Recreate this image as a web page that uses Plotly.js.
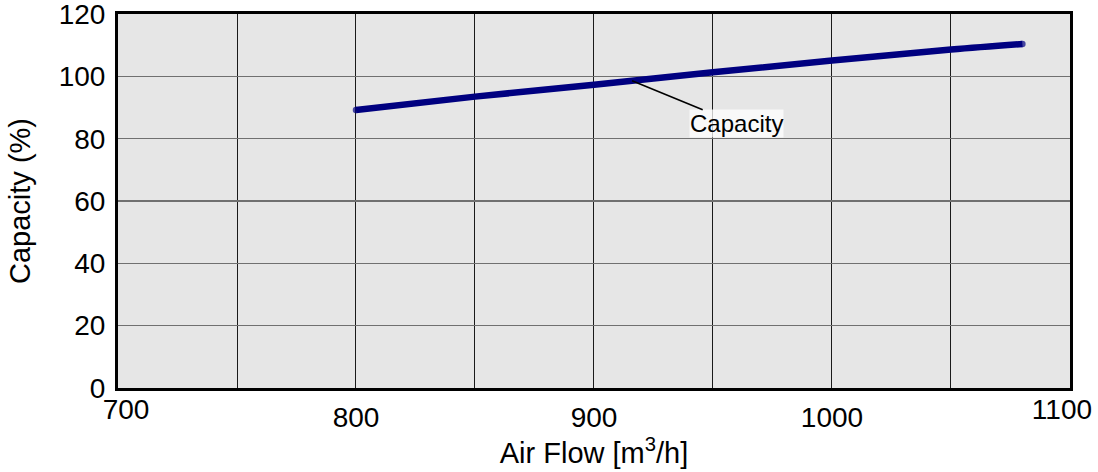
<!DOCTYPE html>
<html>
<head>
<meta charset="utf-8">
<script src="https://cdn.plot.ly/plotly-3.0.1.min.js"></script>
<style>html,body{margin:0;padding:0;background:#fff;}#chart{width:1098px;height:472px;}</style>
</head>
<body>
<div id="chart"></div>
<script>
const airFlow = [800, 850, 900, 950, 1000, 1050, 1080];
const capacity = [89.2, 93.5, 97.3, 101.3, 105.1, 108.6, 110.4];
const seriesName = "Capacity";
const xTicks = [700, 800, 900, 1000, 1100];
const yTicks = [0, 20, 40, 60, 80, 100, 120];
const labelPoint = {x: 916, y: 98.6};
const labelText = {x: 960, y: 84.8};

const font = "Liberation Sans, Arial, sans-serif";
const lastIdx = airFlow.length - 1;
const xFirst = xTicks[0];
const xLast = xTicks[xTicks.length - 1];
const xInner = xTicks.slice(1, -1);

const trace = {
  x: airFlow, y: capacity, name: seriesName, type: "scatter", mode: "lines+markers",
  line: {color: "#000080", width: 6.5, shape: "spline"},
  marker: {color: "#000080", size: airFlow.map((_, i) => (i === 0 || i === lastIdx) ? 6.5 : 0), line: {width: 0}},
  hoverinfo: "skip"
};
// empty helper traces so the edge-label axes are created (they draw nothing)
const helper2 = {x: [], y: [], type: "scatter", mode: "lines", xaxis: "x2", yaxis: "y", showlegend: false, hoverinfo: "skip"};
const helper3 = {x: [], y: [], type: "scatter", mode: "lines", xaxis: "x3", yaxis: "y", showlegend: false, hoverinfo: "skip"};

const edgeAxis = (val, shift) => ({
  overlaying: "x", anchor: "y", side: "bottom",
  range: [xFirst, xLast + 0.01], autorange: false,
  tickvals: [val], ticktext: [String(val)], ticklabelshift: shift,
  showgrid: false, showline: false, zeroline: false, ticks: "",
  tickfont: {family: font, size: 28}, ticklabelstandoff: 2, ticklabeloverflow: "allow"
});

const layout = {
  width: 1098, height: 472,
  margin: {l: 118, r: 28, t: 14, b: 84},
  paper_bgcolor: "#ffffff", plot_bgcolor: "#e6e6e6",
  showlegend: false,
  font: {family: font, size: 29, color: "#000"},
  xaxis: {
    range: [xFirst, xLast + 0.01], tickvals: xInner, ticktext: xInner.map(String),
    showgrid: true, gridcolor: "#1a1a1a", gridwidth: 1,
    showline: true, linecolor: "#000", linewidth: 3, mirror: true,
    ticks: "", zeroline: false,
    tickfont: {family: font, size: 28},
    ticklabelstandoff: 2,
    ticklabeloverflow: "allow",
    title: {text: "Air Flow [m<sup>3</sup>/h]", font: {family: font, size: 29}, standoff: 4},
    minor: {tickvals: [750, 850, 950, 1050], showgrid: true, gridcolor: "#1a1a1a", gridwidth: 1}
  },
  xaxis2: edgeAxis(xFirst, 8),
  xaxis3: edgeAxis(xLast, -8),
  yaxis: {
    range: [0, 120.02], tickvals: yTicks, ticktext: yTicks.map(String),
    showgrid: true, gridcolor: "#707070", gridwidth: 1.5,
    showline: true, linecolor: "#000", linewidth: 3, mirror: true,
    ticks: "", zeroline: false,
    tickfont: {family: font, size: 28},
    ticklabelstandoff: 4,
    ticklabeloverflow: "allow",
    title: {text: "Capacity (%)", font: {family: font, size: 29}, standoff: 20}
  },
  annotations: [{
    x: labelPoint.x, y: labelPoint.y, xref: "x", yref: "y",
    ax: labelText.x, ay: labelText.y, axref: "x", ayref: "y",
    text: seriesName, showarrow: true, arrowhead: 0, arrowwidth: 1.6, arrowcolor: "#000",
    font: {family: font, size: 24, color: "#000"},
    bgcolor: "rgba(255,255,255,0.75)", borderpad: 0
  }]
};

Plotly.newPlot("chart", [trace, helper2, helper3], layout, {displayModeBar: false, staticPlot: true});
</script>
</body>
</html>
